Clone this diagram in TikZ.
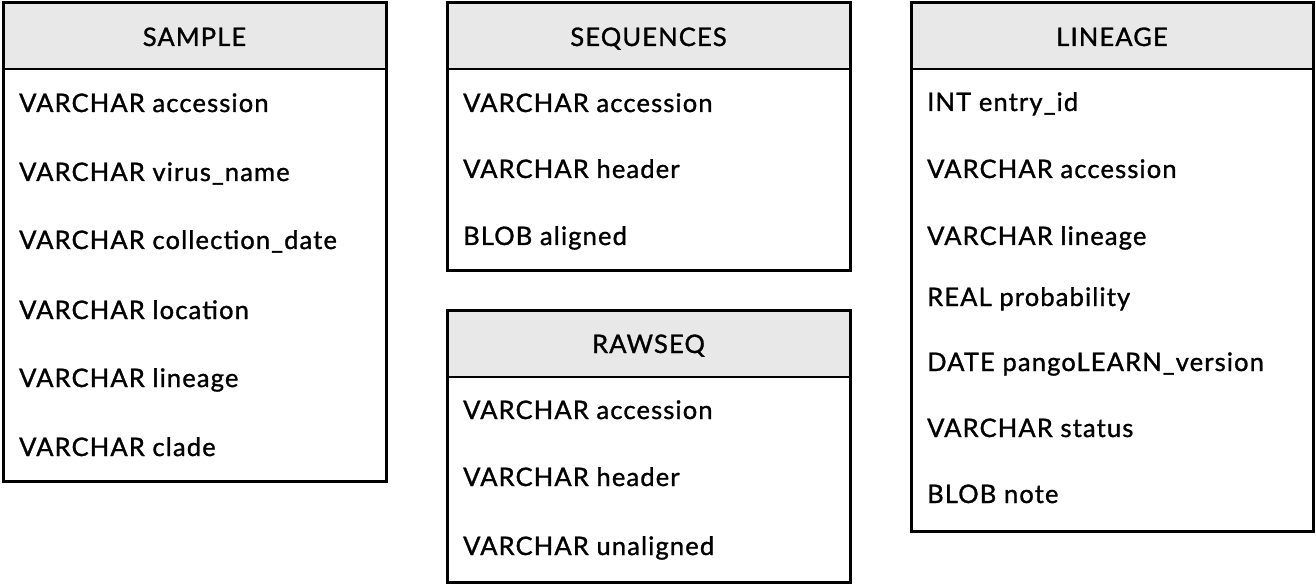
\documentclass[tikz,border=0pt]{standalone}
\usepackage{fontspec}
\setmainfont{Lato}[LetterSpace=4.5, FakeBold=1.2]
\definecolor{hdr}{HTML}{E8E8E8}
\tikzset{
  tbl/.style={draw=black, line width=3pt},
  ttl/.style={anchor=base, inner sep=0pt, font=\fontsize{25.5pt}{28pt}\selectfont},
  fld/.style={anchor=base west, inner sep=0pt, font=\fontsize{25.5pt}{28pt}\selectfont},
}
\begin{document}
\begin{tikzpicture}[x=1pt,y=-1pt]
\useasboundingbox (0,0) rectangle (1316,585);
% SAMPLE
\fill[hdr] (3,3) rectangle (386,69);
\draw[line width=1.5pt] (3,69) -- (386,69);
\draw[tbl] (3,3) rectangle (386,481);
\node[ttl] (sT) at (194.5,46) {SAMPLE};
\node[fld] (s1) at (19,112) {VARCHAR accession};
\node[fld] (s2) at (19,181) {VARCHAR virus\_name};
\node[fld] (s3) at (19,249) {VARCHAR collection\_date};
\node[fld] (s4) at (19,319) {VARCHAR location};
\node[fld] (s5) at (19,387) {VARCHAR lineage};
\node[fld] (s6) at (19,456) {VARCHAR clade};
% SEQUENCES
\fill[hdr] (447,3) rectangle (850,69);
\draw[line width=1.5pt] (447,69) -- (850,69);
\draw[tbl] (447,3) rectangle (850,270);
\node[ttl] (qT) at (648.5,46) {SEQUENCES};
\node[fld] (q1) at (463,112) {VARCHAR accession};
\node[fld] (q2) at (463,178) {VARCHAR header};
\node[fld] (q3) at (463,245) {BLOB aligned};
% RAWSEQ
\fill[hdr] (447,310) rectangle (850,377);
\draw[line width=1.5pt] (447,377) -- (850,377);
\draw[tbl] (447,310) rectangle (850,582);
\node[ttl] (rT) at (648.5,353) {RAWSEQ};
\node[fld] (r1) at (463,419) {VARCHAR accession};
\node[fld] (r2) at (463,486) {VARCHAR header};
\node[fld] (r3) at (463,555) {VARCHAR unaligned};
% LINEAGE
\fill[hdr] (911,3) rectangle (1313,69);
\draw[line width=1.5pt] (911,69) -- (1313,69);
\draw[tbl] (911,3) rectangle (1313,531);
\node[ttl] (lT) at (1112,46) {LINEAGE};
\node[fld] (l1) at (927,111) {INT entry\_id};
\node[fld] (l2) at (927,178) {VARCHAR accession};
\node[fld] (l3) at (927,245) {VARCHAR lineage};
\node[fld] (l4) at (927,306) {REAL probability};
\node[fld] (l5) at (927,371) {DATE pangoLEARN\_version};
\node[fld] (l6) at (927,437) {VARCHAR status};
\node[fld] (l7) at (927,503) {BLOB note};
\end{tikzpicture}
\end{document}
